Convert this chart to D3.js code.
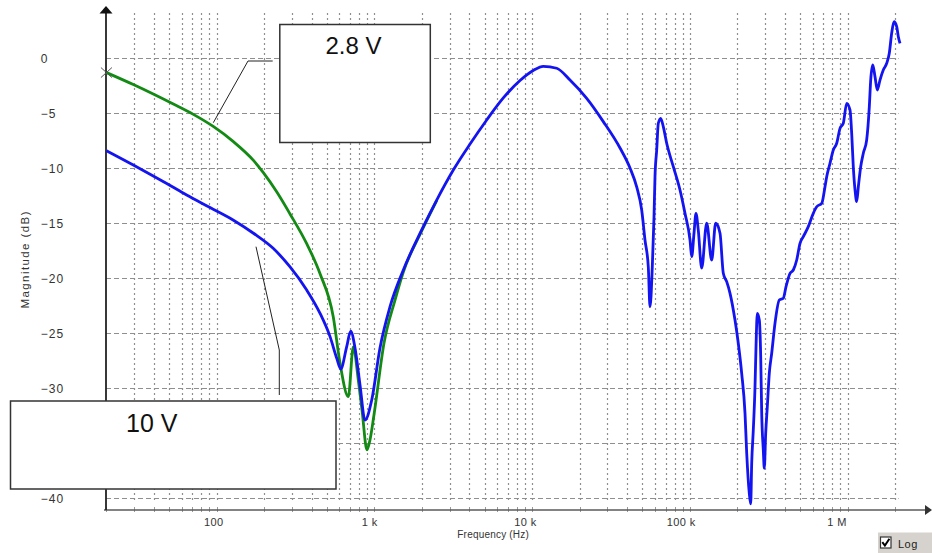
<!DOCTYPE html>
<html>
<head>
<meta charset="utf-8">
<script src="https://cdn.jsdelivr.net/npm/d3@7"></script>
<style>
  html, body { margin: 0; padding: 0; background: #fff; }
  svg { display: block; font-family: "Liberation Sans", Arial, sans-serif; }
</style>
</head>
<body>
<svg id="chart" width="932" height="553"></svg>
<script>
// Magnitude response, [frequency in Hz, magnitude in dB]
const trace10V = [
  [20, -8.45], [29.6, -9.75], [39.6, -10.75], [48.2, -11.44], [64.5, -12.48],
  [90.7, -13.62], [127, -14.75], [171, -15.96], [228, -17.33], [291, -19.0],
  [372, -21.12], [452, -23.24], [523, -25.36], [576, -27.3], [611, -28.3],
  [667, -26.27], [707, -24.85], [753, -26.39], [810, -29.75], [871, -32.94],
  [961, -31.12], [1084, -26.39], [1255, -22.64], [1524, -19.3], [1993, -15.66],
  [2481, -12.94], [3161, -10.21], [4035, -7.85], [5147, -5.66], [6559, -3.66],
  [8370, -2.07], [10160, -1.16], [11760, -0.78], [14300, -0.96], [17360, -2.03],
  [22160, -3.7], [28230, -5.81], [36030, -8.21], [41690, -10.03], [45960, -11.75],
  [49440, -13.85], [51880, -16.57], [54450, -19.03], [55830, -22.64], [57720, -19.03],
  [59180, -14.45], [60040, -10.82], [61550, -8.39], [63010, -5.96], [65260, -5.51],
  [67760, -6.27], [71220, -7.78], [78450, -9.91], [86480, -12.03], [93030, -14.15],
  [100100, -16.57], [102600, -18.09], [106100, -15.96], [109200, -14.15], [112900, -15.66],
  [118700, -19.12], [127700, -15.05], [137300, -18.39], [145600, -15.05], [155100, -15.96],
  [162700, -19.6], [171000, -20.36], [179500, -21.42], [193000, -23.85], [202500, -25.96],
  [212800, -28.69], [223400, -32.33], [229000, -35.96], [237800, -39.6], [242700, -40.57],
  [246300, -36.87], [252100, -33.85], [258500, -29.91], [262300, -26.27], [267300, -23.24],
  [275200, -23.85], [280900, -27.18], [285000, -32.33], [291700, -35.66], [296000, -37.33],
  [302100, -34.15], [309300, -31.73], [318400, -28.69], [329800, -26.87], [346000, -24.15],
  [368500, -22.03], [390700, -21.87], [406400, -20.82], [430800, -19.6], [452100, -19.3],
  [475100, -18.39], [498500, -16.87], [523100, -16.27], [562600, -15.36], [605100, -14.15],
  [636000, -13.55], [684300, -13.24], [718000, -11.73], [736000, -10.82], [772300, -9.6],
  [810400, -8.39], [851700, -7.78], [893800, -6.42], [937800, -5.96], [985600, -4.15],
  [1034000, -4.75], [1060000, -6.87], [1085000, -9.91], [1113000, -12.03], [1141000, -13.09],
  [1168000, -11.73], [1209000, -9.91], [1256000, -8.69], [1319000, -7.48], [1371000, -4.45],
  [1399000, -2.03], [1441000, -0.66], [1490000, -1.73], [1540000, -2.94], [1602000, -2.03],
  [1681000, -1.12], [1767000, -0.51], [1835000, 0.4], [1900000, 2.22], [1966000, 3.27],
  [2045000, 2.82], [2094000, 1.91], [2146000, 1.31]
];

const trace2V8 = [
  [20, -1.35], [29.6, -2.44], [39.6, -3.3], [53.1, -4.21], [71.1, -5.15],
  [95.1, -6.25], [127, -7.61], [171, -9.34], [197, -10.43], [240, -12.19],
  [291, -14.18], [372, -16.91], [452, -19.64], [548, -23.55], [605, -27.78],
  [683, -30.82], [734, -26.3], [790, -29.3], [834, -32.03], [897, -35.66],
  [937, -34.75], [993, -32.48], [1150, -25.94], [1350, -22.03], [1524, -19.48],
  [1993, -15.75], [2481, -12.98]
];

const magTicks = [0, -5, -10, -15, -20, -25, -30, -35, -40];
const freqTicks = [100, 1e3, 1e4, 1e5, 1e6];
const freqTickLabels = ["100", "1 k", "10 k", "100 k", "1 M"];
const legendLabels = ["2.8 V", "10 V"];
const seriesColors = ["#138a13", "#1414f0"];

const svg = d3.select("#chart");

// Scales: log frequency axis, linear dB axis
const x = d3.scaleLog().domain([100, 1e6]).range([216.7, 847.7]);
const y = d3.scaleLinear().domain([0, -40]).range([57.7, 497.7]);

const plotLeft = 106;
const gridTop = 13;
const gridBottom = 502;
const gridRight = x(2.1e6);
const axisY = 510;

// Grid: dotted verticals at 1..9 per decade, dashed horizontals every 5 dB
const gridFreqs = [];
for (let d = 10; d <= 1e6; d *= 10) {
  for (let m = 1; m <= 9; m++) {
    const f = d * m;
    if (f >= 30 && f <= 2e6) gridFreqs.push(f);
  }
}

const grid = svg.append("g");
grid.selectAll("line.v").data(gridFreqs).join("line")
  .attr("class", "v")
  .attr("x1", d => Math.round(x(d)) + 0.5).attr("x2", d => Math.round(x(d)) + 0.5)
  .attr("y1", gridTop).attr("y2", gridBottom)
  .attr("stroke", "#8f8f8f").attr("stroke-width", 1.2)
  .attr("stroke-dasharray", "2,3");

grid.selectAll("line.h").data(magTicks).join("line")
  .attr("class", "h")
  .attr("x1", plotLeft).attr("x2", gridRight)
  .attr("y1", d => Math.round(y(d)) + 0.5).attr("y2", d => Math.round(y(d)) + 0.5)
  .attr("stroke", "#8f8f8f").attr("stroke-width", 1.2)
  .attr("stroke-dasharray", "5,3");

// Small ticks on the frequency axis
grid.selectAll("line.t").data(gridFreqs.concat([20])).join("line")
  .attr("class", "t")
  .attr("x1", d => Math.round(x(d)) + 0.5).attr("x2", d => Math.round(x(d)) + 0.5)
  .attr("y1", axisY - 3).attr("y2", axisY + 2)
  .attr("stroke", "#9a9a9a").attr("stroke-width", 1);

// Axes lines with arrow heads
svg.append("line")
  .attr("x1", 104).attr("x2", 926).attr("y1", axisY).attr("y2", axisY)
  .attr("stroke", "#5a5a5a").attr("stroke-width", 1.6);
svg.append("path")
  .attr("d", `M925,${axisY - 5}L932,${axisY}L925,${axisY + 5}Z`)
  .attr("fill", "#333");
svg.append("line")
  .attr("x1", plotLeft).attr("x2", plotLeft).attr("y1", 12).attr("y2", axisY)
  .attr("stroke", "#222").attr("stroke-width", 1.8);
svg.append("path")
  .attr("d", `M${plotLeft - 6.5},13.5L${plotLeft},6L${plotLeft + 6.5},13.5Z`)
  .attr("fill", "#111");

// Tick labels through d3 axes
const yAxis = d3.axisLeft(y).tickValues(magTicks).tickSize(0).tickPadding(0)
  .tickFormat(d3.format("d"));
const gy = svg.append("g").attr("transform", "translate(40.7,0)").call(yAxis);
gy.select(".domain").remove();
gy.selectAll("text")
  .attr("text-anchor", "start").attr("x", 0).attr("dy", "0.36em")
  .attr("fill", "#333").style("font-size", "12px").style("letter-spacing", "1px")
  .attr("font-family", null);

const xAxis = d3.axisBottom(x).tickValues(freqTicks).tickSize(0).tickPadding(0)
  .tickFormat((d, i) => freqTickLabels[i]);
const gx = svg.append("g").attr("transform", "translate(0,518)").call(xAxis);
gx.select(".domain").remove();
gx.selectAll("text")
  .attr("dy", "0.71em")
  .attr("dx", (d, i) => -(3.4 + 1.95 * i))
  .attr("fill", "#333").style("font-size", "11px").style("letter-spacing", "0.4px")
  .attr("font-family", null);

// Axis titles
svg.append("text")
  .attr("x", 457.3).attr("y", 537.8)
  .attr("fill", "#333").style("font-size", "10px").style("letter-spacing", "0.2px")
  .text("Frequency (Hz)");
svg.append("text")
  .attr("transform", "translate(28.7,260) rotate(-90)")
  .attr("text-anchor", "middle")
  .attr("textLength", 97).attr("lengthAdjust", "spacing")
  .attr("fill", "#333").style("font-size", "11.5px")
  .text("Magnitude (dB)");

// Curves
const line = d3.line()
  .x(d => x(d[0]))
  .y(d => y(d[1]))
  .curve(d3.curveMonotoneX);

svg.append("path").datum(trace2V8)
  .attr("d", line).attr("fill", "none")
  .attr("stroke", seriesColors[0]).attr("stroke-width", 2.8)
  .attr("stroke-linejoin", "round");
svg.append("path").datum(trace10V)
  .attr("d", line).attr("fill", "none")
  .attr("stroke", seriesColors[1]).attr("stroke-width", 2.8)
  .attr("stroke-linejoin", "round");

// Cursor mark at the first 2.8 V sample
const p0 = [x(trace2V8[0][0]), y(trace2V8[0][1])];
svg.append("path")
  .attr("d", `M${p0[0] - 5.5},${p0[1] - 5}L${p0[0] + 5.5},${p0[1] + 5}M${p0[0] - 5.5},${p0[1] + 5}L${p0[0] + 5.5},${p0[1] - 5}`)
  .attr("stroke", "#555").attr("stroke-width", 1).attr("fill", "none");

// Annotation leaders
svg.append("polyline")
  .attr("points", "272.7,61 248,61 213.3,122.7")
  .attr("fill", "none").attr("stroke", "#222").attr("stroke-width", 1);
svg.append("polyline")
  .attr("points", "256,246.7 279.3,350 279.3,395")
  .attr("fill", "none").attr("stroke", "#222").attr("stroke-width", 1);

// Annotation boxes
svg.append("rect")
  .attr("x", 279.8).attr("y", 24.5).attr("width", 150.5).attr("height", 118)
  .attr("fill", "#fff").attr("stroke", "#333").attr("stroke-width", 1.5);
svg.append("text")
  .attr("x", 353.5).attr("y", 53.5).attr("text-anchor", "middle")
  .attr("fill", "#111").style("font-size", "24px")
  .text(legendLabels[0]);

svg.append("rect")
  .attr("x", 10.5).attr("y", 401).attr("width", 325.5).attr("height", 88)
  .attr("fill", "#fff").attr("stroke", "#333").attr("stroke-width", 1.5);
svg.append("text")
  .attr("x", 126).attr("y", 431.5)
  .attr("fill", "#111").style("font-size", "25px")
  .text(legendLabels[1]);

// Log scale toggle
svg.append("rect")
  .attr("x", 878).attr("y", 532.5).attr("width", 54).attr("height", 20.5)
  .attr("fill", "#d6d3ce");
svg.append("rect")
  .attr("x", 880.5).attr("y", 537).attr("width", 10.5).attr("height", 11)
  .attr("fill", "#fff").attr("stroke", "#333").attr("stroke-width", 1.2);
svg.append("path")
  .attr("d", "M882.3,542.2L884.9,545.6L889.4,538.8")
  .attr("fill", "none").attr("stroke", "#000").attr("stroke-width", 2);
svg.append("text")
  .attr("x", 898).attr("y", 547.5)
  .attr("fill", "#222").style("font-size", "11px").style("letter-spacing", "0.5px")
  .text("Log");
</script>
</body>
</html>
